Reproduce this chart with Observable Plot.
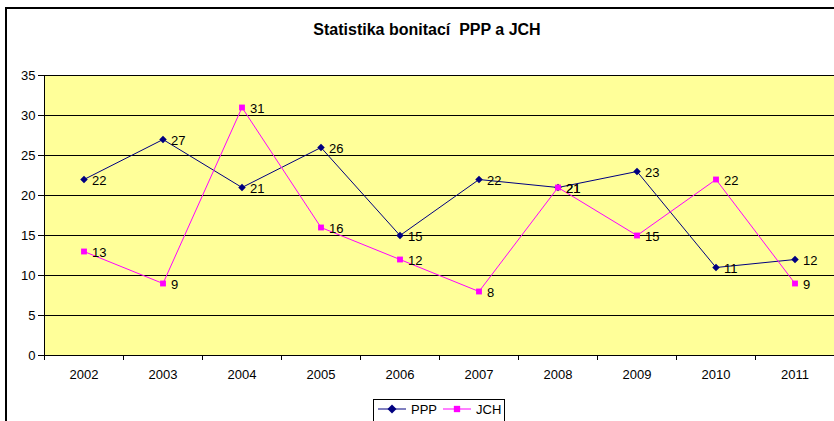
<!DOCTYPE html>
<html><head><meta charset="utf-8">
<script src="https://cdn.jsdelivr.net/npm/d3@7"></script>
<script src="https://cdn.jsdelivr.net/npm/@observablehq/plot@0.6"></script>
<style>
body{margin:0;background:#fff;font-family:"Liberation Sans",Arial,sans-serif;}
#wrap{position:relative;width:834px;height:421px;overflow:hidden;background:#fff;}
#border{position:absolute;left:5px;top:7px;width:900px;height:500px;border:2px solid #000;}
#title{position:absolute;top:21px;left:0;width:854px;text-align:center;font-weight:bold;font-size:16px;line-height:18px;color:#000;white-space:pre;}
#chart{position:absolute;left:0;top:60px;}
#legend{position:absolute;left:373px;top:399px;width:130px;height:30px;border:1px solid #000;background:#fff;}
#legend svg{position:absolute;left:0;top:0;}
</style></head>
<body>
<div id="wrap">
<div id="border"></div>
<div id="title">Statistika bonitací  PPP a JCH</div>
<div id="chart"></div>
<div id="legend"></div>
</div>
<script>
const years = ["2002","2003","2004","2005","2006","2007","2008","2009","2010","2011"];
const ppp = [22,27,21,26,15,22,21,23,11,12];
const jch = [13,9,31,16,12,8,21,15,22,9];
const yTicks = [0,5,10,15,20,25,30,35];

const dPPP = years.map((y,i)=>({i:i+0.5, v:ppp[i]}));
const dJCH = years.map((y,i)=>({i:i+0.5, v:jch[i]}));

const chart = Plot.plot({
  width:834, height:330,
  marginLeft:44, marginRight:0, marginTop:15, marginBottom:35,
  style:{fontFamily:"Liberation Sans, Arial, sans-serif", fontSize:"13px", color:"#000", background:"transparent"},
  x:{domain:[0,years.length]},
  y:{domain:[0,35]},
  marks:[
    Plot.frame({fill:"#ffff99", stroke:null}),
    Plot.ruleY(yTicks.filter(t=>t>0), {stroke:"#000", strokeWidth:1}),
    Plot.ruleY([0], {stroke:"#000"}),
    Plot.ruleX([0], {stroke:"#000"}),
    Plot.axisY({ticks:yTicks, tickSize:6, tickPadding:3, label:null, fontSize:13}),
    Plot.axisX({ticks:d3.range(0,years.length+1), tickSize:5, tickFormat:()=>"", label:null}),
    Plot.axisX({ticks:years.map((y,i)=>i+0.5), tickSize:0, tickPadding:14, tickFormat:d=>years[Math.round(d-0.5)], label:null, fontSize:13}),
    Plot.line(dPPP,{x:"i", y:"v", stroke:"#000080", strokeWidth:1}),
    Plot.line(dJCH,{x:"i", y:"v", stroke:"#ff00ff", strokeWidth:1}),
    Plot.dot(dPPP,{x:"i", y:"v", symbol:"square", rotate:45, r:3, fill:"#000080", stroke:null}),
    Plot.dot(dJCH,{x:"i", y:"v", symbol:"square", r:3.3, fill:"#ff00ff", stroke:null}),
    Plot.text(dPPP,{x:"i", y:"v", text:"v", dx:8, dy:1, textAnchor:"start", fill:"#000", fontSize:13}),
    Plot.text(dJCH,{x:"i", y:"v", text:"v", dx:8, dy:1, textAnchor:"start", fill:"#000", fontSize:13})
  ]
});
document.getElementById("chart").appendChild(chart);

// legend
const lg = d3.select("#legend").append("svg").attr("width",130).attr("height",30);
const items = [{name:"PPP", color:"#000080", rot:45},{name:"JCH", color:"#ff00ff", rot:0}];
let x0 = 4;
items.forEach((it,k)=>{
  lg.append("line").attr("x1",x0).attr("x2",x0+28).attr("y1",9).attr("y2",9).attr("stroke",it.color);
  lg.append("path").attr("d",d3.symbol(d3.symbolSquare, 40)()).attr("transform",`translate(${x0+14},9) rotate(${it.rot})`).attr("fill",it.color);
  lg.append("text").attr("x",x0+33).attr("y",13.5).attr("font-size",13).attr("font-family","Liberation Sans, Arial, sans-serif").text(it.name);
  x0 += 65;
});
</script>
</body></html>
